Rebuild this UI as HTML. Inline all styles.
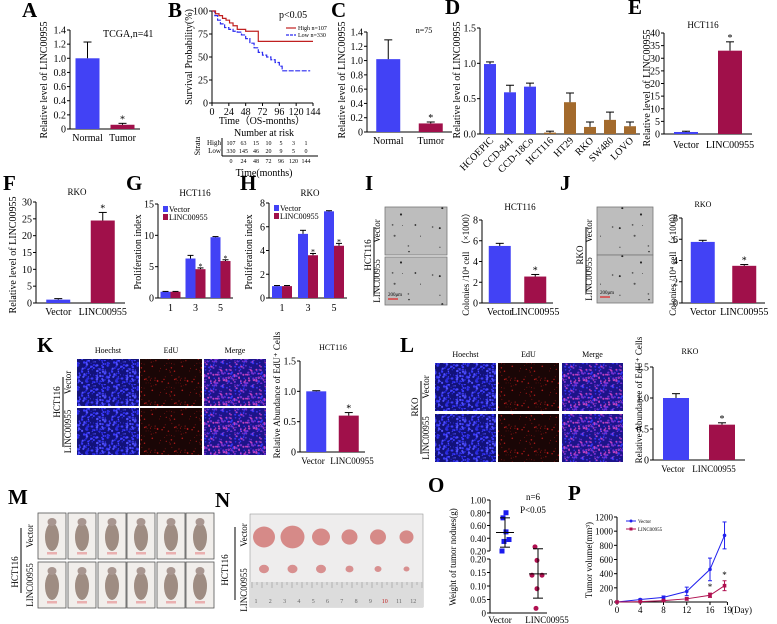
<!DOCTYPE html>
<html><head><meta charset="utf-8"><style>
html,body{margin:0;padding:0;background:#fff}
svg{display:block;font-family:"Liberation Serif",serif}
</style></head><body>
<svg id="fig" width="777" height="624" viewBox="0 0 777 624" xmlns="http://www.w3.org/2000/svg">
<defs id="defs"></defs>
</svg>
<script>
// ---------- data ----------
const aCats=['Normal','Tumor'], aVals=[1.0,0.06], aErrs=[0.23,0.02];
const cCats=['Normal','Tumor'], cVals=[1.02,0.12], cErrs=[0.27,0.02];
const dCats=['HCOEPIC','CCD-841','CCD-18Co','HCT116','HT29','RKO','SW480','LOVO'];
const dVals=[0.99,0.59,0.67,0.02,0.45,0.10,0.20,0.11];
const dErrs=[0.03,0.10,0.05,0.02,0.13,0.07,0.11,0.06];
const eCats=['Vector','LINC00955'], eVals=[0.8,33], eErrs=[0.3,3.5];
const fCats=['Vector','LINC00955'], fVals=[1.0,24.5], fErrs=[0.3,2.4];
const gDays=['1','3','5'], gVec=[1.0,6.3,9.7], gVecErr=[0.05,0.5,0.1], gLinc=[1.0,4.6,5.9], gLincErr=[0.05,0.2,0.2];
const hDays=['1','3','5'], hVec=[1.0,5.4,7.3], hVecErr=[0.05,0.3,0.05], hLinc=[1.0,3.6,4.4], hLincErr=[0.05,0.15,0.2];
const iCats=['Vector','LINC00955'], iVals=[5.5,2.55], iErrs=[0.25,0.2];
const jCats=['Vector','LINC00955'], jVals=[5.75,3.5], jErrs=[0.15,0.12];
const kCats=['Vector','LINC00955'], kVals=[1.0,0.6], kErrs=[0.01,0.05];
const lCats=['Vector','LINC00955'], lVals=[1.0,0.57], lErrs=[0.07,0.03];
const hiT=[0,5,10,15,20,25,30,36,42,48,66,144], hiS=[100,97,95,92,90,87,84,80,80,78,67,67];
const loT=[0,4,8,12,18,24,30,36,42,48,54,60,66,72,78,84,90,96,100,140], loS=[100,95,90,86,82,80,78,77,74,70,65,60,55,52,50,47,44,40,35,35];
const riskTimes=[0,24,48,72,96,120,144], riskHigh=[107,63,15,10,5,3,1], riskLow=[330,145,46,20,9,5,0];
const oVec=[0.80,0.72,0.50,0.35,0.38,0.20], oLinc=[0.265,0.195,0.14,0.14,0.09,0.017];
const oVecMean=0.49, oVecSd=0.23, oLincMean=0.145, oLincSd=0.09;
const pDays=[0,4,8,12,16,18.5];
const pVec=[0,35,65,150,460,940], pVecErr=[0,10,20,60,160,190];
const pLinc=[0,5,20,45,95,230], pLincErr=[0,5,10,20,30,70];
const pTicksY=[0,200,400,600,800,1000,1200], pTicksX=[0,4,8,12,16,19];

const BLUE='#4242f5', RED='#a0104a', BROWN='#a36a2c';
const NS='http://www.w3.org/2000/svg';
const svg=document.getElementById('fig');
const defs=document.getElementById('defs');
function mk(tag,attrs,name,parent){
  const el=document.createElementNS(NS,tag);
  for(const k in attrs) el.setAttribute(k,attrs[k]);
  
  
  (parent||svg).appendChild(el); return el;
}
function tx(x,y,s,size,name,o){
  o=o||{};
  const a={x:x,y:y,'font-size':size,'text-anchor':o.anchor||'middle',fill:o.fill||'#000'};
  if(o.rot) a.transform='rotate('+o.rot+' '+x+' '+y+')';
  if(o.weight) a['font-weight']=o.weight;
  const t=mk('text',a,name); t.textContent=s; return t;
}
function ln(x1,y1,x2,y2,name,stroke,w,dash){
  const a={x1:x1,y1:y1,x2:x2,y2:y2,stroke:stroke||'#000','stroke-width':w||1};
  if(dash) a['stroke-dasharray']=dash;
  return mk('line',a,name);
}
function letter(x,y,s){ tx(x,y,s,21,'panel-label-'+s.toLowerCase(),{anchor:'start',weight:'bold'}); }
let seed=7; function rnd(){seed=(seed*16807)%2147483647;return seed/2147483647;}

function yAxis(id,x0,y0,yT,max,ticks,fmt,fs){
  const sy=v=>y0-v/max*(y0-yT);
  ln(x0,yT,x0,y0,id+'-y-axis');
  ticks.forEach(v=>{ ln(x0-3,sy(v),x0,sy(v),id+'-y-tick'); tx(x0-4,sy(v)+3.5,fmt(v),fs||10,id+'-y-tick-label',{anchor:'end'}); });
  return sy;
}
function barChart(id,c,cats,vals,errs,cols,stars){
  const sy=yAxis(id,c.x0,c.y0,c.yT,c.max,c.ticks,c.fmt,c.fs);
  ln(c.x0,c.y0,c.x1,c.y0,id+'-x-axis');
  const band=(c.x1-c.x0)/cats.length;
  cats.forEach((cat,i)=>{
    const cx=c.x0+band*(i+0.5), y=sy(vals[i]), ye=sy(vals[i]+errs[i]);
    mk('rect',{x:cx-c.bw/2,y:y,width:c.bw,height:c.y0-y,fill:cols[i]},id+'-bar-'+cat.toLowerCase());
    ln(cx,y,cx,ye,id+'-error-bar'); ln(cx-4,ye,cx+4,ye,id+'-error-cap');
    if(stars[i]) tx(cx,ye-1,'*',10,id+'-significance-star');
    if(c.rot) tx(cx+4,c.y0+7,cat,10,id+'-x-label',{anchor:'end',rot:-45});
    else tx(c.lxs?c.lxs[i]:cx,c.y0+(c.lo||12),cat,c.lfs||10,id+'-x-label');
  });
}
function groupChart(id,c,cats,v1,e1,v2,e2){
  const sy=yAxis(id,c.x0,c.y0,c.yT,c.max,c.ticks,v=>String(v),10);
  ln(c.x0,c.y0,c.x1,c.y0,id+'-x-axis');
  const band=(c.x1-c.x0)/cats.length;
  cats.forEach((cat,i)=>{
    const cx=c.x0+band*(i+0.5);
    [[v1,e1,BLUE,-5,'vector'],[v2,e2,RED,5,'linc00955']].forEach(s=>{
      const x=cx+s[3], y=sy(s[0][i]), ye=sy(s[0][i]+s[1][i]);
      mk('rect',{x:x-5,y:y,width:10,height:c.y0-y,fill:s[2]},id+'-bar-'+s[4]+'-day'+cat);
      ln(x,y,x,ye,id+'-error-bar'); ln(x-3,ye,x+3,ye,id+'-error-cap');
      if(s[4]==='linc00955'&&i>0) tx(x,ye+1,'*',8,id+'-significance-star');
    });
    tx(cx,c.y0+13,cat,10,id+'-x-label');
  });
  mk('rect',{x:c.x0+5,y:c.yT+2,width:5,height:6,fill:BLUE},id+'-legend-swatch-vector');
  tx(c.x0+11,c.yT+8,'Vector',8,id+'-legend-vector',{anchor:'start'});
  mk('rect',{x:c.x0+5,y:c.yT+10,width:5,height:6,fill:RED},id+'-legend-swatch-linc');
  tx(c.x0+11,c.yT+16,'LINC00955',8,id+'-legend-linc00955',{anchor:'start'});
}
const f1=v=>v===0?'0':v.toFixed(1);

// ---------- A ----------
letter(22,17,'A');
tx(103,37,'TCGA,n=41',10,'a-annotation',{anchor:'start'});
tx(47,80,'Relative level of LINC00955',10,'a-y-axis-title',{rot:-90});
barChart('a',{x0:70,x1:140,y0:129,yT:30,max:1.4,ticks:[0,0.2,0.4,0.6,0.8,1.0,1.2,1.4],fmt:v=>v===0?'0':(v===1?'1.0':String(+v.toFixed(1))),bw:24},aCats,aVals,aErrs,[BLUE,RED],[0,1]);

// ---------- B ----------
letter(168,17,'B');
const bsx=t=>212+t/144*101, bsy=s=>103-s/100*92;
yAxis('b',212,103,11,100,[0,25,50,75,100],v=>String(v),10);
ln(212,103,313,103,'b-x-axis');
[0,24,48,72,96,120,144].forEach(t=>{ln(bsx(t),103,bsx(t),106,'b-x-tick');tx(bsx(t),115,String(t),10,'b-x-tick-label');});
function stepPath(T,S){let d='M'+bsx(T[0])+' '+bsy(S[0]);for(let i=1;i<T.length;i++){d+=' H'+bsx(T[i])+' V'+bsy(S[i]);}return d;}
mk('path',{d:stepPath(loT,loS),fill:'none',stroke:'#2a2af0','stroke-width':1.2,'stroke-dasharray':'5 1.5'},'b-curve-low');
mk('path',{d:stepPath(hiT,hiS),fill:'none',stroke:'#c02020','stroke-width':1.2},'b-curve-high');
tx(279,18,'p<0.05',10,'b-p-value',{anchor:'start'});
ln(286,28,296,28,'b-legend-line-high','#c02020',1.2); tx(298,30,'High  n=107',6,'b-legend-high',{anchor:'start'});
ln(286,35,296,35,'b-legend-line-low','#2a2af0',1.2,'3 1'); tx(298,37,'Low    n=330',6,'b-legend-low',{anchor:'start'});
tx(192,57,'Survival Probability(%)',10,'b-y-axis-title',{rot:-90});
tx(262,124,'Time（OS-months）',10,'b-x-axis-title');
tx(264,136,'Number at risk',10,'b-risk-table-title');
tx(200,146,'Strata',8,'b-strata-label',{rot:-90});
tx(221,145,'High',7,'b-risk-row-high-label',{anchor:'end'});
tx(221,153,'Low',7,'b-risk-row-low-label',{anchor:'end'});
ln(222,138,222,156,'b-risk-table-axis'); ln(222,156,318,156,'b-risk-table-baseline');
const rx=t=>231+t/144*75;
riskTimes.forEach((t,i)=>{tx(rx(t),145,String(riskHigh[i]),6,'b-risk-high-count');tx(rx(t),153,String(riskLow[i]),6,'b-risk-low-count');tx(rx(t),163,String(t),6,'b-risk-time-label');});
tx(264,176,'Time(months)',10,'b-risk-x-title');

// ---------- C ----------
letter(331,17,'C');
tx(424,33,'n=75',8,'c-annotation');
tx(345,80,'Relative level of LINC00955',10,'c-y-axis-title',{rot:-90});
barChart('c',{x0:367,x1:452,y0:132,yT:32,max:1.4,ticks:[0,0.2,0.4,0.6,0.8,1.0,1.2,1.4],fmt:v=>v===0?'0':(v===1?'1.0':String(+v.toFixed(1))),bw:24},cCats,cVals,cErrs,[BLUE,RED],[0,1]);

// ---------- D ----------
letter(445,14,'D');
tx(460,80,'Relative level of LINC00955',10,'d-y-axis-title',{rot:-90});
barChart('d',{x0:480,x1:640,y0:134,yT:28,max:1.5,ticks:[0,0.5,1.0,1.5],fmt:v=>v.toFixed(1),bw:12,rot:true},dCats,dVals,dErrs,[BLUE,BLUE,BLUE,BROWN,BROWN,BROWN,BROWN,BROWN],[0,0,0,0,0,0,0,0]);

// ---------- E ----------
letter(628,14,'E');
tx(703,28,'HCT116',9,'e-title');
tx(650,88,'Relative level of LINC00955',10,'e-y-axis-title',{rot:-90});
barChart('e',{x0:664,x1:752,y0:134,yT:33,max:40,ticks:[0,5,10,15,20,25,30,35,40],fmt:v=>String(v),bw:24,lo:14},eCats,eVals,eErrs,[BLUE,RED],[0,1]);

// ---------- F ----------
letter(3,190,'F');
tx(77,195,'RKO',9,'f-title');
tx(16,255,'Relative level of LINC00955',10,'f-y-axis-title',{rot:-90});
barChart('f',{x0:36,x1:125,y0:303,yT:202,max:30,ticks:[0,5,10,15,20,25,30],fmt:v=>String(v),bw:24},fCats,fVals,fErrs,[BLUE,RED],[0,1]);

// ---------- G / H ----------
letter(126,190,'G'); tx(195,196,'HCT116',9,'g-title');
tx(141,252,'Proliferation index',10,'g-y-axis-title',{rot:-90});
groupChart('g',{x0:158,x1:233,y0:298,yT:204,max:15,ticks:[0,5,10,15]},gDays,gVec,gVecErr,gLinc,gLincErr);
letter(240,190,'H'); tx(310,196,'RKO',9,'h-title');
tx(252,252,'Proliferation index',10,'h-y-axis-title',{rot:-90});
groupChart('h',{x0:269,x1:347,y0:298,yT:203,max:8,ticks:[0,2,4,6,8]},hDays,hVec,hVecErr,hLinc,hLincErr);

// ---------- textures ----------
function pattern(id,w,h,bg,dots,n,r){
  const p=mk('pattern',{id:id,width:w,height:h,patternUnits:'userSpaceOnUse'},'texture-'+id,defs);
  mk('rect',{width:w,height:h,fill:bg},'texture-bg',p);
  for(let i=0;i<n;i++){mk('circle',{cx:(rnd()*w).toFixed(1),cy:(rnd()*h).toFixed(1),r:r*(0.6+rnd()*0.8),fill:dots[i%dots.length]},'texture-dot',p);}
}
pattern('colony',60,48,'#bdbdbd',['#222','#555'],12,0.8);
pattern('hoechst',30,24,'#12127a',['#3a3aff','#2828e0','#5050ff'],110,0.9);
pattern('edu',30,24,'#1a0606',['#b01818','#701010'],35,0.6);
pattern('merge',30,24,'#1c148a',['#7030d0','#3434f0','#c040c0'],110,0.9);

function colonyImgs(id,x,y1,y2,w,h,label){
  mk('rect',{x:x,y:y1,width:w,height:h,fill:'url(#colony)',stroke:'#777','stroke-width':0.8},id+'-image-vector');
  mk('rect',{x:x,y:y2,width:w,height:h,fill:'url(#colony)',stroke:'#777','stroke-width':0.8},id+'-image-linc00955');
  ln(x+3,y2+h-6,x+13,y2+h-6,id+'-scale-bar','#e02020',1.2);
  tx(x+3,y2+h-9,'200μm',5,id+'-scale-label',{anchor:'start'});
  tx(x-5,y1+h/2,'Vector',9,id+'-row-label-vector',{rot:-90});
  tx(x-5,y2+h/2,'LINC00955',9,id+'-row-label-linc00955',{rot:-90});
  ln(x-11,y1+20,x-11,y2+h-10,id+'-group-bracket');
  tx(x-14,y1+h,label,9,id+'-group-label',{rot:-90});
}
// ---------- I ----------
letter(365,190,'I');
colonyImgs('i',385,207,257,62,48,'HCT116');
tx(520,210,'HCT116',9,'i-title');
tx(469,262,'Colonies /10⁴ cell  （×1000）',9,'i-y-axis-title',{rot:-90});
barChart('i',{x0:482,x1:553,y0:303,yT:220,max:8,ticks:[0,2,4,6,8],fmt:v=>String(v),bw:22},iCats,iVals,iErrs,[BLUE,RED],[0,1]);
// ---------- J ----------
letter(560,190,'J');
colonyImgs('j',597,207,255,56,48,'RKO');
tx(703,207,'RKO',8,'j-title');
tx(676,262,'Colonies /10⁴ cell  （×1000）',9,'j-y-axis-title',{rot:-90});
barChart('j',{x0:682,x1:765,y0:303,yT:218,max:8,ticks:[0,2,4,6,8],fmt:v=>String(v),bw:24},jCats,jVals,jErrs,[BLUE,RED],[0,1]);

function eduGrid(id,xs,w,y1,y2,h,label){
  ['Hoechst','EdU','Merge'].forEach((t,i)=>{
    tx(xs[i]+w/2,y1-6,t,8,id+'-column-title-'+t.toLowerCase());
    const f=['hoechst','edu','merge'][i];
    mk('rect',{x:xs[i],y:y1,width:w,height:h,fill:'url(#'+f+')'},id+'-image-vector-'+f);
    mk('rect',{x:xs[i],y:y2,width:w,height:h,fill:'url(#'+f+')'},id+'-image-linc00955-'+f);
  });
  tx(xs[0]-6,y1+h/2,'Vector',9,id+'-row-label-vector',{rot:-90});
  tx(xs[0]-6,y2+h/2,'LINC00955',9,id+'-row-label-linc00955',{rot:-90});
  ln(xs[0]-14,y1+18,xs[0]-14,y2+h-8,id+'-group-bracket');
  tx(xs[0]-17,y1+h-4,label,9,id+'-group-label',{rot:-90});
}
// ---------- K ----------
letter(37,352,'K');
eduGrid('k',[77,140,204],62,359,408,47,'HCT116');
tx(333,350,'HCT116',8,'k-title');
tx(280,395,'Relative  Abundance of EdU⁺ Cells',9,'k-y-axis-title',{rot:-90});
barChart('k',{x0:300,x1:365,y0:452,yT:361,max:1.5,ticks:[0,0.5,1.0,1.5],fmt:f1,bw:20,lfs:9,lxs:[313,352]},kCats,kVals,kErrs,[BLUE,RED],[0,1]);
// ---------- L ----------
letter(400,352,'L');
eduGrid('l',[435,498,562],61,363,414,48,'RKO');
tx(690,354,'RKO',8,'l-title');
tx(642,400,'Relative  Abundance of EdU⁺ Cells',9,'l-y-axis-title',{rot:-90});
barChart('l',{x0:653,x1:745,y0:460,yT:367,max:1.5,ticks:[0,0.5,1.0,1.5],fmt:f1,bw:26,lfs:9,lxs:[673,714]},lCats,lVals,lErrs,[BLUE,RED],[0,1]);

// ---------- M ----------
letter(8,504,'M');
const mxs=[38,68,98,127,157,186];
[513,562].forEach((y,r)=>{mxs.forEach((x,i)=>{
  const g=mk('g',{},'m-mouse-photo-'+(r?'linc00955':'vector')+'-'+(i+1));
  mk('rect',{x:x,y:y,width:28,height:46,fill:'#f1eeeb',stroke:'#555','stroke-width':0.8},'m-photo-frame',g);
  mk('ellipse',{cx:x+14,cy:y+24,rx:7,ry:14,fill:'#9e8c82'},'m-mouse-body',g);
  mk('ellipse',{cx:x+14,cy:y+9,rx:4.5,ry:4,fill:'#a89690'},'m-mouse-head',g);
  mk('rect',{x:x+9,y:y+39,width:10,height:2.5,fill:'#eab0b0'},'m-mouse-feet',g);
});});
tx(33,536,'Vector',9,'m-row-label-vector',{rot:-90});
tx(33,585,'LINC00955',9,'m-row-label-linc00955',{rot:-90});
ln(21,528,21,593,'m-group-bracket');
tx(18,572,'HCT116',9,'m-group-label',{rot:-90});

// ---------- N ----------
letter(215,507,'N');
mk('rect',{x:250,y:514,width:173,height:93,fill:'#eeeded',stroke:'#999','stroke-width':0.6},'n-tumor-photo');
mk('rect',{x:250,y:582,width:173,height:25,fill:'#dcdcdc'},'n-ruler');
for(let i=0;i<=34;i++){ln(252+i*5,582,252+i*5,i%2?585:588,'n-ruler-tick','#888',0.5);}
for(let i=1;i<=12;i++){tx(256+(i-1)*14.3,603,String(i),6,'n-ruler-number',{fill:i===10?'#c02020':'#666'});}
const nV=[11,12,9,8,8,7], nL=[5,5,5,4,3.5,3];
nV.forEach((r,i)=>mk('ellipse',{cx:264+i*28.5,cy:537,rx:r,ry:r*0.95,fill:'#d68a88'},'n-tumor-vector-'+(i+1)));
nL.forEach((r,i)=>mk('ellipse',{cx:264+i*28.5,cy:569,rx:r,ry:r*0.85,fill:'#d89090'},'n-tumor-linc00955-'+(i+1)));
tx(247,535,'Vector',9,'n-row-label-vector',{rot:-90});
tx(247,590,'LINC00955',9,'n-row-label-linc00955',{rot:-90});
ln(235,527,235,600,'n-group-bracket');
tx(228,570,'HCT116',9,'n-group-label',{rot:-90});

// ---------- O ----------
letter(428,492,'O');
const oU=v=>551-(v-0.2)/0.8*51, oL=v=>613-v/0.2*54;
const oy=v=>v>=0.2?oU(v):oL(v);
ln(490,500,490,551,'o-y-axis-upper'); ln(490,559,490,613,'o-y-axis-lower'); ln(490,613,547,613,'o-x-axis');
[0.2,0.4,0.6,0.8,1.0].forEach(v=>{ln(487,oU(v),490,oU(v),'o-y-tick');tx(486,oU(v)+3.5,v.toFixed(2),9,'o-y-tick-label',{anchor:'end'});});
[0,0.05,0.1,0.15,0.2].forEach(v=>{ln(487,oL(v),490,oL(v),'o-y-tick');tx(486,oL(v)+3.5,v===0?'0':v.toFixed(2),9,'o-y-tick-label',{anchor:'end'});});
const oVx=[506,503,506,504,509,502], oLx=[535,537,532,542,537,536];
oVec.forEach((v,i)=>mk('rect',{x:oVx[i]-2.5,y:oy(v)-2.5,width:5,height:5,fill:'#1a1aee'},'o-point-vector'));
oLinc.forEach((v,i)=>mk('circle',{cx:oLx[i],cy:oy(v),r:2.5,fill:'#b01050'},'o-point-linc00955'));
function oStat(cx,m,sd,name){ln(cx-9,oy(m),cx+9,oy(m),name+'-mean');ln(cx,oy(m-sd),cx,oy(m+sd),name+'-sd');ln(cx-5,oy(m-sd),cx+5,oy(m-sd),name+'-sd-cap');ln(cx-5,oy(m+sd),cx+5,oy(m+sd),name+'-sd-cap');}
oStat(505,oVecMean,oVecSd,'o-vector'); oStat(538,oLincMean,oLincSd,'o-linc00955');
tx(500,623,'Vector',9,'o-x-label'); tx(547,623,'LINC00955',9,'o-x-label');
tx(533,500,'n=6',9,'o-annotation-n'); tx(533,513,'P<0.05',9,'o-annotation-p');
tx(456,557,'Weight of tumor nodues(g)',9,'o-y-axis-title',{rot:-90});

// ---------- P ----------
letter(568,500,'P');
const psx=d=>617+d/16*93, psy=v=>602-v/1200*85;
pTicksY.forEach(v=>{ln(614,psy(v),617,psy(v),'p-y-tick');tx(613,psy(v)+3.5,String(v),9,'p-y-tick-label',{anchor:'end'});});
ln(617,517,617,602,'p-y-axis'); ln(617,602,727,602,'p-x-axis');
pTicksX.forEach(d=>{ln(psx(d),602,psx(d),605,'p-x-tick');tx(psx(d),613,String(d),9,'p-x-tick-label');});
tx(731,613,'(Day)',9,'p-x-axis-unit',{anchor:'start'});
tx(592,560,'Tumor volume(mm³)',9,'p-y-axis-title',{rot:-90});
function pSeries(vals,errs,col,name,sq){
  mk('polyline',{points:pDays.map((d,i)=>psx(d)+','+psy(vals[i])).join(' '),fill:'none',stroke:col,'stroke-width':1},'p-line-'+name);
  pDays.forEach((d,i)=>{const x=psx(d);ln(x,psy(vals[i]-errs[i]),x,psy(vals[i]+errs[i]),'p-error-bar-'+name,col);
    ln(x-2,psy(vals[i]+errs[i]),x+2,psy(vals[i]+errs[i]),'p-error-cap',col);ln(x-2,psy(vals[i]-errs[i]),x+2,psy(vals[i]-errs[i]),'p-error-cap',col);
    if(sq) mk('rect',{x:x-1.8,y:psy(vals[i])-1.8,width:3.6,height:3.6,fill:col},'p-point-'+name);
    else mk('circle',{cx:x,cy:psy(vals[i]),r:1.8,fill:col},'p-point-'+name);});
}
pSeries(pVec,pVecErr,'#2020ee','vector',false);
pSeries(pLinc,pLincErr,'#b01050','linc00955',true);
[4,5].forEach(i=>tx(psx(pDays[i]),psy(pLinc[i]+pLincErr[i])-3,'*',9,'p-significance-star'));
ln(626,521,636,521,'p-legend-line-vector','#2020ee'); mk('circle',{cx:631,cy:521,r:1.5,fill:'#2020ee'},'p-legend-marker-vector');
tx(638,523,'Vector',5,'p-legend-vector',{anchor:'start'});
ln(626,529,636,529,'p-legend-line-linc','#b01050'); mk('rect',{x:629.5,y:527.5,width:3,height:3,fill:'#b01050'},'p-legend-marker-linc');
tx(638,531,'LINC00955',5,'p-legend-linc00955',{anchor:'start'});
</script>
</body></html>
